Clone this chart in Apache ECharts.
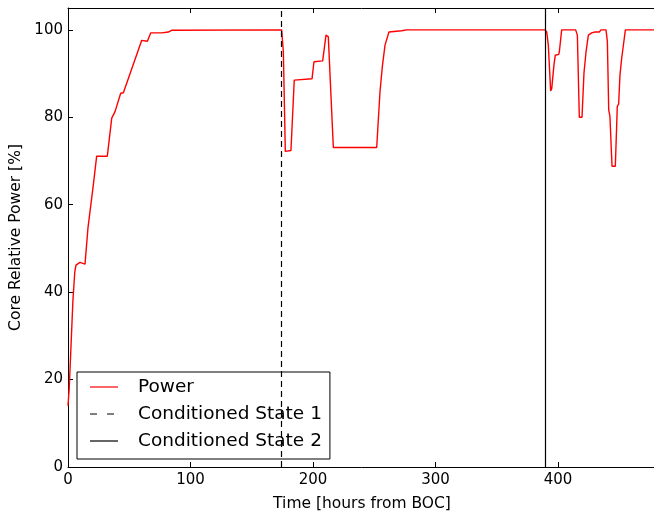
<!DOCTYPE html>
<html>
<head>
<meta charset="utf-8">
<script src="https://cdn.jsdelivr.net/npm/echarts@6/dist/echarts.min.js"></script>
<style>html,body{margin:0;padding:0;background:#fff}#c{width:654px;height:514px}</style>
</head>
<body>
<div id="c"></div>
<script>
const timeHours = [0,1,2.5,4,5.5,6.5,9.8,13.9,14.4,16.3,20.7,23.4,32.1,35.7,38.4,43,45.2,60.2,64.8,67.5,76.5,77.8,81.9,84.6,174.4,175.8,177.4,182,184.7,199.2,200.8,207.9,210.6,211.7,212.5,216.6,252,254.7,256.6,258.8,262,263.4,272.4,276.5,389.4,390.8,392.1,394,394.9,396.7,397.8,400.6,401.1,403,414.4,415.8,417.4,419.6,421.2,422.9,424.8,427.5,430.2,433.7,435.1,439.2,440.3,441.4,442.4,444.1,446.8,448.4,449.5,450.6,452,455,480];
const powerPct = [14,18,28,38,44.5,46.2,46.8,46.4,46.4,54.7,64.6,71.1,71.1,79.8,81.3,85.5,85.6,97.6,97.4,99.3,99.3,99.6,99.5,99.9,100,95,72.2,72.4,88.5,88.8,92.7,92.9,98.8,99.2,98.4,73.1,73.1,85.9,91.6,96.5,99.5,99.8,99.8,100,100,99.5,96.5,86,86.6,92,94.2,94.4,95,100,100,98.8,80,80,90.1,95,98.8,99.3,99.5,99.5,100,100,97.3,81.7,80.2,68.8,68.8,82.5,83,89.7,93.5,100,100];
const stateTimes = [174.4, 389.4];
const seriesNames = ['Power', 'Conditioned State 1', 'Conditioned State 2'];
const xTicks = {min: 0, max: 480, interval: 100};
const yTicks = {min: 0, max: 105, interval: 20};

const font = 'DejaVu Sans';
const powerData = timeHours.map((t, i) => [t, powerPct[i]]);

const solidIcon = 'path://M0,0H28V1.2H0Z';
const dashedIcon = 'path://M0,0H7V1.2H0Z M17,0H24V1.2H17Z M27.9,0H28V1.2H27.9Z';

const chart = echarts.init(document.getElementById('c'), null, {renderer: 'canvas'});
const baseAxis = {
  axisLine: {show: true, onZero: false, lineStyle: {color: '#000', width: 1}},
  axisTick: {show: true, inside: true, length: 5, lineStyle: {color: '#000'}},
  splitLine: {show: false}
};
chart.setOption({
  animation: false,
  backgroundColor: '#fff',
  grid: {left: 68, top: 8, right: -2, bottom: 47, containLabel: false, outerBoundsMode: 'none'},
  legend: {
    orient: 'vertical',
    left: 77, top: 372,
    padding: [5, 8, 8, 13],
    borderColor: '#000', borderWidth: 1,
    backgroundColor: '#fff',
    itemWidth: 28, itemHeight: 1.2, itemGap: 7,
    textStyle: {fontFamily: font, fontSize: 18.5, color: '#000', lineHeight: 20, padding: [0, 0, 0, 15]},
    data: [
      {name: seriesNames[0], icon: solidIcon},
      {name: seriesNames[1], icon: dashedIcon},
      {name: seriesNames[2], icon: solidIcon}
    ]
  },
  xAxis: [
    Object.assign({}, baseAxis, {
      type: 'value', position: 'bottom', min: xTicks.min, max: xTicks.max, interval: xTicks.interval,
      name: 'Time [hours from BOC]', nameLocation: 'middle', nameGap: 29,
      nameTextStyle: {fontFamily: font, fontSize: 15.5, color: '#000'},
      axisLabel: {fontFamily: font, fontSize: 15, color: '#000', margin: 6, showMaxLabel: false}
    }),
    Object.assign({}, baseAxis, {
      type: 'value', position: 'top', min: xTicks.min, max: xTicks.max, interval: xTicks.interval,
      axisLabel: {show: false}
    })
  ],
  yAxis: Object.assign({}, baseAxis, {
    type: 'value', min: yTicks.min, max: yTicks.max, interval: yTicks.interval,
    name: 'Core Relative Power [%]', nameLocation: 'middle', nameGap: 30, nameRotate: 90,
    nameTextStyle: {fontFamily: font, fontSize: 15.5, color: '#000'},
    axisLabel: {fontFamily: font, fontSize: 15, color: '#000', margin: 5, showMaxLabel: false}
  }),
  series: [
    {
      name: seriesNames[0], type: 'line', data: powerData, symbol: 'none',
      lineStyle: {color: '#ff0000', width: 1.4}, itemStyle: {color: '#ff0000'}, z: 3
    },
    {
      name: seriesNames[1], type: 'line', data: [], symbol: 'none',
      lineStyle: {color: '#000', width: 1}, itemStyle: {color: '#000'},
      markLine: {
        silent: true, symbol: 'none', label: {show: false},
        lineStyle: {color: '#000', width: 1.2, type: [6, 4]},
        data: [{xAxis: stateTimes[0]}]
      }
    },
    {
      name: seriesNames[2], type: 'line', data: [], symbol: 'none',
      lineStyle: {color: '#000', width: 1}, itemStyle: {color: '#000'},
      markLine: {
        silent: true, symbol: 'none', label: {show: false},
        lineStyle: {color: '#000', width: 1.2, type: 'solid'},
        data: [{xAxis: stateTimes[1]}]
      }
    }
  ]
});
</script>
</body>
</html>
